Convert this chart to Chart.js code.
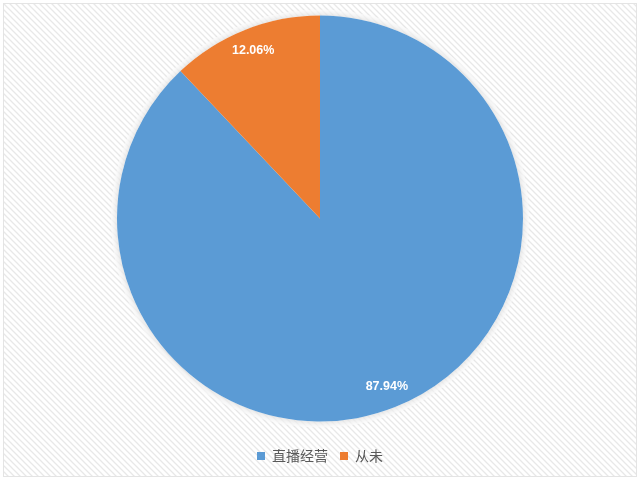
<!DOCTYPE html>
<html>
<head>
<meta charset="utf-8">
<script src="https://cdn.jsdelivr.net/npm/chart.js@4"></script>
<style>
  html, body { margin: 0; padding: 0; background: #fff; }
  #wrap { width: 640px; height: 480px; position: relative; }
</style>
</head>
<body>
<div id="wrap"><canvas id="pie"></canvas></div>
<script>
var categories = ['直播经营', '从未'];
var shares = [87.94, 12.06];
var colors = ['#5B9BD5', '#ED7D31'];

// striped backdrop like the office chart style
var stripeBg = {
    id: 'stripeBg',
    beforeDraw: function (chart) {
        var ctx = chart.ctx;
        var tile = document.createElement('canvas');
        tile.width = 6; tile.height = 6;
        var t = tile.getContext('2d');
        t.fillStyle = '#ffffff';
        t.fillRect(0, 0, 6, 6);
        t.strokeStyle = '#e8e8e8';
        t.lineWidth = 1.3;
        t.beginPath();
        t.moveTo(-1, -1); t.lineTo(7, 7);
        t.moveTo(-4, 2); t.lineTo(4, 10);
        t.moveTo(2, -4); t.lineTo(10, 4);
        t.stroke();
        ctx.save();
        ctx.fillStyle = '#ffffff';
        ctx.fillRect(0, 0, chart.width, chart.height);
        ctx.fillStyle = ctx.createPattern(tile, 'repeat');
        ctx.fillRect(4, 4, chart.width - 8, chart.height - 8);
        ctx.strokeStyle = '#e4e4e4';
        ctx.lineWidth = 1;
        ctx.strokeRect(3.5, 3.5, chart.width - 7, chart.height - 7);
        ctx.restore();
    },
    beforeDatasetsDraw: function (chart) {
        var ctx = chart.ctx;
        var arc = chart.getDatasetMeta(0).data[0];
        ctx.save();
        ctx.beginPath();
        ctx.arc(arc.x, arc.y, arc.outerRadius + 6, 0, Math.PI * 2);
        ctx.fillStyle = 'rgba(255,255,255,0.7)';
        ctx.fill();
        ctx.shadowColor = 'rgba(0,0,0,0.18)';
        ctx.shadowBlur = 8;
        ctx.beginPath();
        ctx.arc(arc.x, arc.y, arc.outerRadius, 0, Math.PI * 2);
        ctx.fillStyle = '#ffffff';
        ctx.fill();
        ctx.restore();
    },
    afterDatasetsDraw: function (chart) {
        var ctx = chart.ctx;
        var meta = chart.getDatasetMeta(0);
        ctx.save();
        ctx.font = 'bold 12.5px "Liberation Sans", Arial, sans-serif';
        ctx.fillStyle = '#ffffff';
        ctx.textAlign = 'center';
        ctx.textBaseline = 'middle';
        meta.data.forEach(function (arc, i) {
            var mid = (arc.startAngle + arc.endAngle) / 2;
            var r = arc.outerRadius * 0.89;
            ctx.fillText(shares[i].toFixed(2) + '%', arc.x + Math.cos(mid) * r, arc.y + Math.sin(mid) * r);
        });
        ctx.restore();
    }
};

new Chart(document.getElementById('pie'), {
    type: 'pie',
    data: {
        labels: categories,
        datasets: [{
            data: shares,
            backgroundColor: colors,
            borderWidth: 0,
            hoverOffset: 0,
            radius: 203
        }]
    },
    options: {
        responsive: true,
        maintainAspectRatio: false,
        animation: false,
        layout: { padding: { top: 0, bottom: 7 } },
        plugins: {
            tooltip: { enabled: false },
            legend: {
                position: 'bottom',
                labels: {
                    boxWidth: 8,
                    boxHeight: 8,
                    padding: 12,
                    color: '#595959',
                    font: { size: 14, family: '"Noto Sans CJK SC", sans-serif' }
                }
            }
        }
    },
    plugins: [stripeBg]
});
</script>
</body>
</html>
